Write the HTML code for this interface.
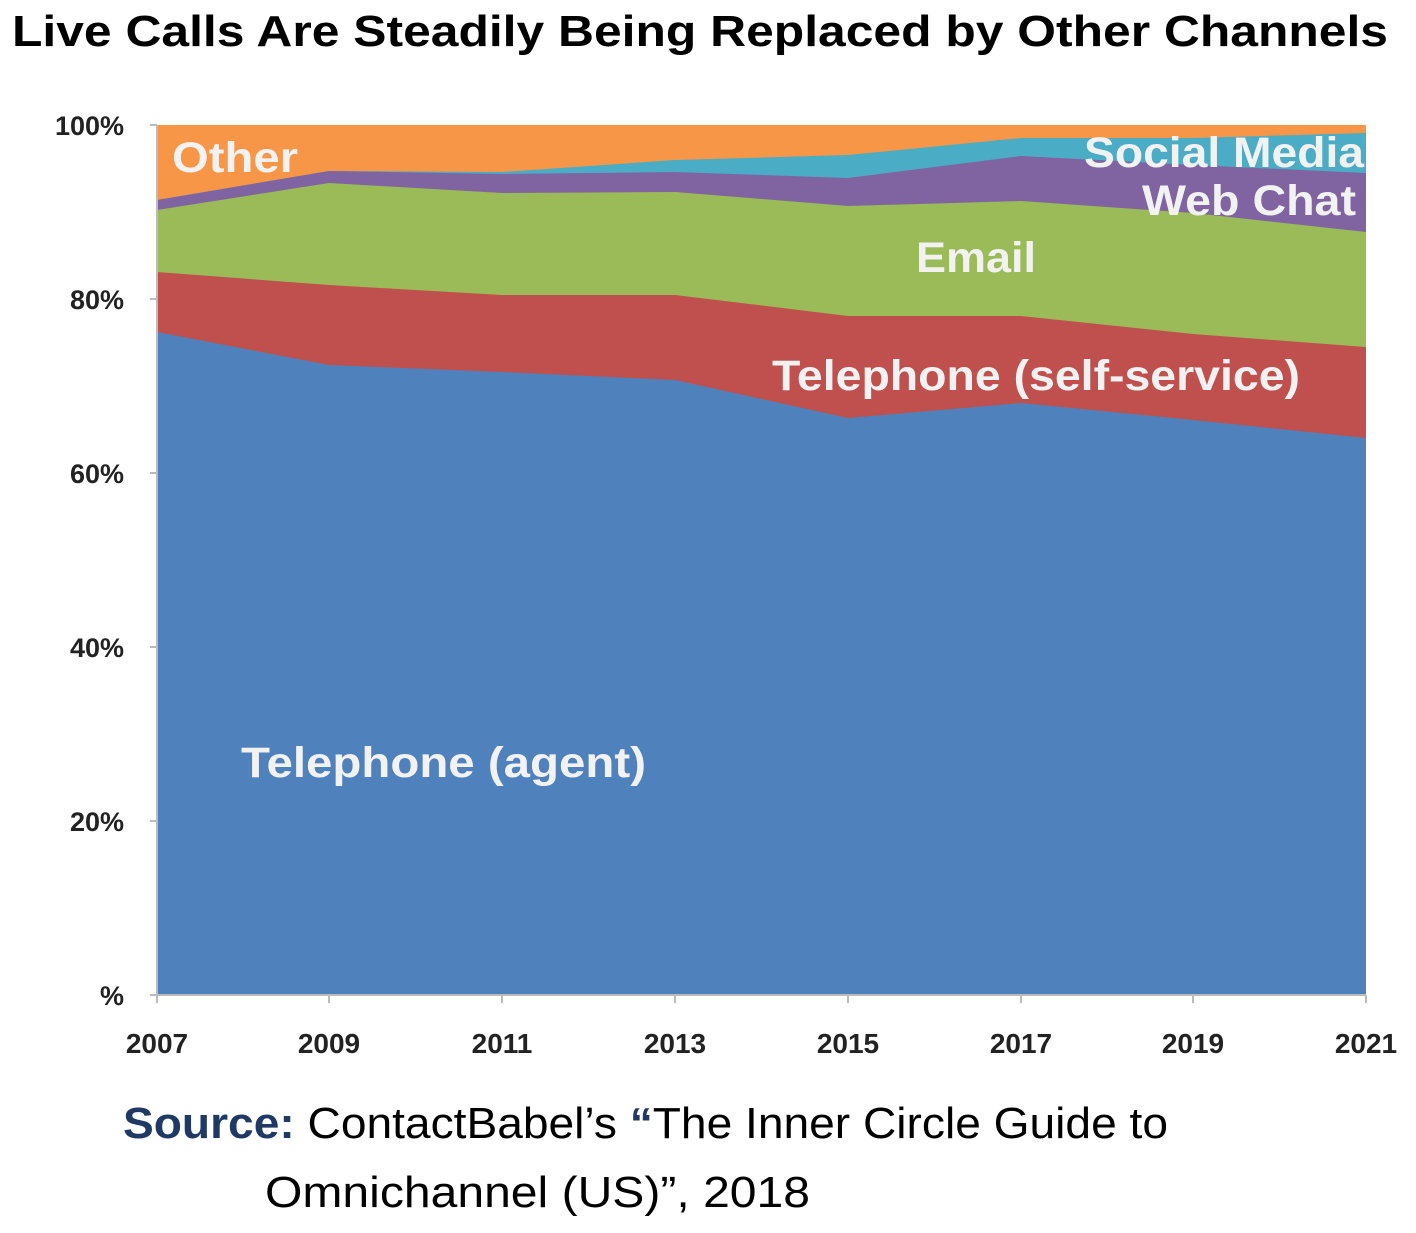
<!DOCTYPE html>
<html><head><style>
body{margin:0;background:#fff;width:1416px;height:1228px;overflow:hidden;font-family:"Liberation Sans",sans-serif}
</style></head><body>
<svg width="1416" height="1228" xmlns="http://www.w3.org/2000/svg">
<text x="12" y="46" textLength="1376" lengthAdjust="spacingAndGlyphs" font-family="Liberation Sans" font-weight="bold" font-size="44" fill="#000">Live Calls Are Steadily Being Replaced by Other Channels</text>
<g>
<polygon fill="#f79646" points="157,125 1366,125 1366,200 157,200"/>
<polygon fill="#4bacc6" points="157,200 329,171 502,172 675,160 848,155 1021,138 1193,138 1366,133 1366,300 157,300"/>
<polygon fill="#8064a2" points="157,200 329,171 502,174 675,172 848,178 1021,156 1193,165 1366,173 1366,300 157,300"/>
<polygon fill="#9bbb59" points="157,210 329,183 502,193 675,192 848,206 1021,201 1193,213 1366,232 1366,400 157,400"/>
<polygon fill="#c0504d" points="157,272 329,285 502,295 675,295 848,316 1021,316 1193,334 1366,347 1366,500 157,500"/>
<polygon fill="#4f81bd" points="157,332 329,365 502,372 675,380 848,418 1021,403 1193,420 1366,438 1366,995 157,995"/>
</g>
<line x1="157" y1="125" x2="157" y2="995" stroke="#bbb" stroke-width="2"/>
<line x1="150" y1="995" x2="1366" y2="995" stroke="#bbb" stroke-width="2"/>
<g stroke="#bbb" stroke-width="2">
<line x1="150" y1="125" x2="157" y2="125"/><line x1="150" y1="299" x2="157" y2="299"/><line x1="150" y1="473" x2="157" y2="473"/><line x1="150" y1="647" x2="157" y2="647"/><line x1="150" y1="821" x2="157" y2="821"/>
<line x1="157" y1="995" x2="157" y2="1003"/><line x1="329" y1="995" x2="329" y2="1003"/><line x1="502" y1="995" x2="502" y2="1003"/><line x1="675" y1="995" x2="675" y2="1003"/><line x1="848" y1="995" x2="848" y2="1003"/><line x1="1021" y1="995" x2="1021" y2="1003"/><line x1="1193" y1="995" x2="1193" y2="1003"/><line x1="1366" y1="995" x2="1366" y2="1003"/>
</g>
<g font-family="Liberation Sans" font-weight="bold" font-size="27" fill="#222" text-anchor="end">
<text x="124" y="135">100%</text><text x="124" y="309">80%</text><text x="124" y="483">60%</text><text x="124" y="657">40%</text><text x="124" y="831">20%</text><text x="124" y="1005">%</text>
</g>
<g font-family="Liberation Sans" font-weight="bold" font-size="28" fill="#222" text-anchor="middle">
<text x="157" y="1053">2007</text><text x="329" y="1053">2009</text><text x="502" y="1053">2011</text><text x="675" y="1053">2013</text><text x="848" y="1053">2015</text><text x="1021" y="1053">2017</text><text x="1193" y="1053">2019</text><text x="1366" y="1053">2021</text>
</g>
<g font-family="Liberation Sans" font-weight="bold" font-size="43" fill="#f2f2f2" lengthAdjust="spacingAndGlyphs">
<text x="172" y="172" textLength="126" lengthAdjust="spacingAndGlyphs">Other</text>
<text x="1084" y="167" textLength="280" lengthAdjust="spacingAndGlyphs">Social Media</text>
<text x="1142" y="215" textLength="214" lengthAdjust="spacingAndGlyphs">Web Chat</text>
<text x="916" y="272" textLength="120" lengthAdjust="spacingAndGlyphs">Email</text>
<text x="772" y="390" textLength="528" lengthAdjust="spacingAndGlyphs">Telephone (self-service)</text>
<text x="241" y="777" textLength="405" lengthAdjust="spacingAndGlyphs">Telephone (agent)</text>
</g>
<text x="123" y="1138" textLength="1045" lengthAdjust="spacingAndGlyphs" font-family="Liberation Sans" font-size="44" fill="#000"><tspan fill="#1f3864" font-weight="bold">Source:</tspan> ContactBabel’s <tspan fill="#1f3864" font-weight="bold">“</tspan>The Inner Circle Guide to</text>
<text x="265" y="1207" textLength="545" lengthAdjust="spacingAndGlyphs" font-family="Liberation Sans" font-size="44" fill="#000">Omnichannel (US)”, 2018</text>
</svg>
</body></html>
